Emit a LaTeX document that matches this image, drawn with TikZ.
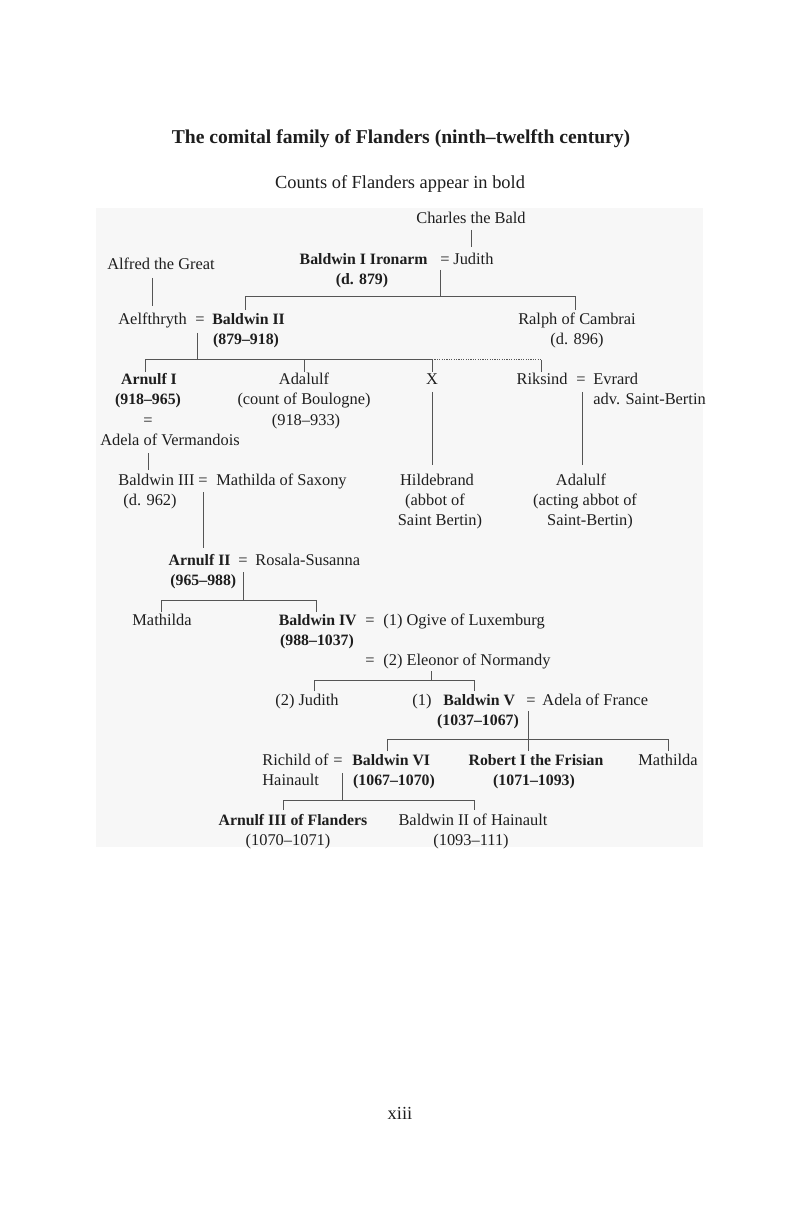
\documentclass[tikz,border=0pt]{standalone}
\usepackage{fontspec}
\setmainfont{Liberation Serif}
\definecolor{bgcol}{HTML}{F7F7F7}
\definecolor{linec}{HTML}{555555}
\definecolor{txtc}{HTML}{1E1E1E}
\newcommand{\fsn}{\fontsize{8.2}{10}\selectfont}
\newcommand{\fsb}{\fontsize{7.9}{10}\selectfont\bfseries}
\tikzset{
  t/.style={inner sep=0pt, anchor=base, text=txtc, font=\fsn},
  tb/.style={t, font=\fsb},
  tw/.style={t, anchor=base west},
  te/.style={t, anchor=base east},
  tbw/.style={tb, anchor=base west},
  tbe/.style={tb, anchor=base east},
  conn/.style={draw=linec, line width=0.5pt},
  dconn/.style={conn, dash pattern=on 0.6pt off 0.6pt},
}
\begin{document}
\begin{tikzpicture}[x=0.5pt,y=-0.5pt]
\useasboundingbox (0,0) rectangle (800,1224);
\fill[white] (0,0) rectangle (800,1224);
\fill[bgcol] (96,208) rectangle (703,847);

% titles
\node[t, font=\fontsize{9.8}{11}\selectfont\bfseries] (title) at (401,144) {The comital family of Flanders (ninth--twelfth century)};
\node[t, font=\fontsize{9.2}{10}\selectfont] (subtitle) at (400,189) {Counts of Flanders appear in bold};

% generation 0/1
\node[t] (charles) at (471,224) {Charles the Bald};
\node[tbe] (bald1) at (428,265) {Baldwin I Ironarm};
\node[t] (eq1) at (445,265) {=};
\node[tw] (judith1) at (453,265) {Judith};
\node[tb] (bald1d) at (362,285) {(d. 879)};
\node[t] (alfred) at (161,270) {Alfred the Great};

% generation 2
\node[tw] (aelf) at (118,325) {Aelfthryth};
\node[t] (eq2) at (200,325) {=};
\node[tbw] (bald2) at (212,325) {Baldwin II};
\node[tb] (bald2d) at (246,345) {(879--918)};
\node[t] (ralph) at (577,325) {Ralph of Cambrai};
\node[t] (ralphd) at (577,345) {(d. 896)};

% generation 3
\node[tb] (arn1) at (149,385) {Arnulf I};
\node[tb] (arn1d) at (148,405) {(918--965)};
\node[t] (eq3) at (148,425) {=};
\node[t] (adela1) at (170,445) {Adela of Vermandois};
\node[t] (adal1) at (304,385) {Adalulf};
\node[t] (adal1a) at (304,405) {(count of Boulogne)};
\node[t] (adal1d) at (306,425) {(918--933)};
\node[t] (xx) at (432,385) {X};
\node[te] (riks) at (568,385) {Riksind};
\node[t] (eq4) at (581,385) {=};
\node[tw] (evr) at (593,385) {Evrard};
\node[tw] (evra) at (593,405) {adv. Saint-Bertin};

% generation 4
\node[tw] (bald3) at (118,485) {Baldwin III};
\node[t] (eq5) at (203,485) {=};
\node[tw] (math1) at (216,485) {Mathilda of Saxony};
\node[t] (bald3d) at (150,505) {(d. 962)};
\node[t] (hild) at (437,485) {Hildebrand};
\node[t] (hilda) at (435,505) {(abbot of};
\node[t] (hildb) at (440,525) {Saint Bertin)};
\node[t] (adal2) at (581,485) {Adalulf};
\node[t] (adal2a) at (585,505) {(acting abbot of};
\node[t] (adal2b) at (590,525) {Saint-Bertin)};

% generation 5
\node[tbe] (arn2) at (231,565) {Arnulf II};
\node[t] (eq6) at (243,565) {=};
\node[tw] (rosala) at (255,565) {Rosala-Susanna};
\node[tbw] (arn2d) at (170,585) {(965--988)};

% generation 6
\node[t] (math2) at (162,625) {Mathilda};
\node[tbe] (bald4) at (357,625) {Baldwin IV};
\node[t] (eq7) at (370,625) {=};
\node[tw] (ogive) at (383,625) {(1) Ogive of Luxemburg};
\node[tb] (bald4d) at (317,645) {(988--1037)};
\node[t] (eq8) at (370,665) {=};
\node[tw] (eleon) at (383,665) {(2) Eleonor of Normandy};

% generation 7
\node[t] (judith2) at (307,705) {(2) Judith};
\node[tw] (one) at (412,705) {(1)};
\node[tbw] (bald5) at (443,705) {Baldwin V};
\node[t] (eq9) at (531,705) {=};
\node[tw] (adelaf) at (542,705) {Adela of France};
\node[tb] (bald5d) at (478,725) {(1037--1067)};

% generation 8
\node[tw] (rich) at (262,765) {Richild of};
\node[tw] (richb) at (262,785) {Hainault};
\node[t] (eq10) at (338,765) {=};
\node[tbw] (bald6) at (352,765) {Baldwin VI};
\node[tb] (bald6d) at (394,785) {(1067--1070)};
\node[tb] (rob) at (536,765) {Robert I the Frisian};
\node[tb] (robd) at (534,785) {(1071--1093)};
\node[t] (math3) at (668,765) {Mathilda};

% generation 9
\node[tb] (arn3) at (293,825) {Arnulf III of Flanders};
\node[t] (arn3d) at (288,845) {(1070--1071)};
\node[t] (bald2h) at (473,825) {Baldwin II of Hainault};
\node[t] (bald2hd) at (471,845) {(1093--111)};

\node[t, font=\fontsize{9.2}{10}\selectfont] (page) at (400,1119) {xiii};

% connector points
\coordinate (c1a) at (471,230); \coordinate (c1b) at (471,247);
\coordinate (c2a) at (440,270); \coordinate (c2b) at (440,297);
\coordinate (c2l) at (245,297); \coordinate (c2r) at (575,297);
\coordinate (c2lt) at (245,310); \coordinate (c2rt) at (575,310);
\coordinate (c3a) at (152,278); \coordinate (c3b) at (152,306);
\coordinate (c4a) at (197,333); \coordinate (c4b) at (197,360);
\coordinate (c4l) at (145,360); \coordinate (c4m) at (304,360);
\coordinate (c4x) at (432,360); \coordinate (c4r) at (541,360);
\coordinate (c4lt) at (145,372); \coordinate (c4mt) at (304,372);
\coordinate (c4xt) at (432,372); \coordinate (c4rt) at (541,372);
\coordinate (c5a) at (432,392); \coordinate (c5b) at (432,465);
\coordinate (c6a) at (582,392); \coordinate (c6b) at (582,465);
\coordinate (c7a) at (148,453); \coordinate (c7b) at (148,470);
\coordinate (c8a) at (203,492); \coordinate (c8b) at (203,548);
\coordinate (c9a) at (243,572); \coordinate (c9b) at (243,600);
\coordinate (c9l) at (161,600); \coordinate (c9r) at (316,600);
\coordinate (c9lt) at (161,612); \coordinate (c9rt) at (316,612);
\coordinate (c10a) at (431,671); \coordinate (c10b) at (431,680);
\coordinate (c10l) at (314,680); \coordinate (c10r) at (474,680);
\coordinate (c10lt) at (314,691); \coordinate (c10rt) at (474,691);
\coordinate (c11a) at (528,711); \coordinate (c11b) at (528,751);
\coordinate (c11l) at (387,739); \coordinate (c11r) at (668,739);
\coordinate (c11lt) at (387,751); \coordinate (c11rt) at (668,751);
\coordinate (c12a) at (342,773); \coordinate (c12b) at (342,800);
\coordinate (c12l) at (283,800); \coordinate (c12r) at (474,800);
\coordinate (c12lt) at (283,810); \coordinate (c12rt) at (474,810);

% connectors
\draw[conn] (c1a) -- (c1b);
\draw[conn] (c2a) -- (c2b);
\draw[conn] (c2lt) -- (c2l) -- (c2r) -- (c2rt);
\draw[conn] (c3a) -- (c3b);
\draw[conn] (c4a) -- (c4b);
\draw[conn] (c4lt) -- (c4l) -- (c4x) -- (c4xt);
\draw[conn] (c4m) -- (c4mt);
\draw[dconn] (c4x) -- (c4r);
\draw[conn] (c4r) -- (c4rt);
\draw[conn] (c5a) -- (c5b);
\draw[conn] (c6a) -- (c6b);
\draw[conn] (c7a) -- (c7b);
\draw[conn] (c8a) -- (c8b);
\draw[conn] (c9a) -- (c9b);
\draw[conn] (c9lt) -- (c9l) -- (c9r) -- (c9rt);
\draw[conn] (c10a) -- (c10b);
\draw[conn] (c10lt) -- (c10l) -- (c10r) -- (c10rt);
\draw[conn] (c11a) -- (c11b);
\draw[conn] (c11lt) -- (c11l) -- (c11r) -- (c11rt);
\draw[conn] (c12a) -- (c12b);
\draw[conn] (c12lt) -- (c12l) -- (c12r) -- (c12rt);
\end{tikzpicture}
\end{document}
